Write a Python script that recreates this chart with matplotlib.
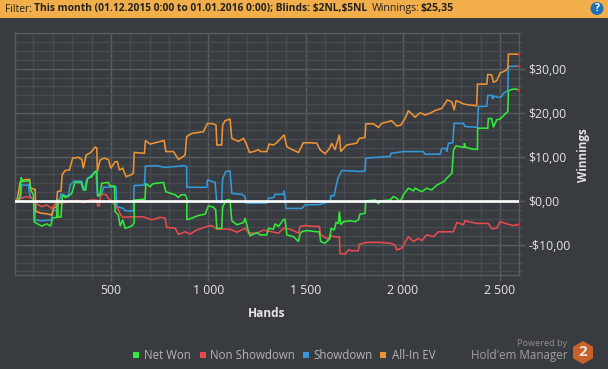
import matplotlib
matplotlib.use("Agg")
import matplotlib.pyplot as plt
from matplotlib.patches import Rectangle, RegularPolygon, Circle
from matplotlib.ticker import MultipleLocator, FuncFormatter

plt.rcParams['font.family'] = ['Open Sans', 'DejaVu Sans']

orange_h = [9,19,33,53,81,87,110,113,144,170,195,204,218,225,243,249,264,286,303,332,350,358,372,396,418,427,430,444,464,487,499,521,533,543,560,578,602,615,619,672,677,701,736,773,782,821,847,881,889,915,975,996,1026,1040,1044,1069,1074,1086,1112,1121,1155,1181,1194,1212,1232,1258,1270,1301,1313,1335,1352,1369,1390,1404,1429,1464,1489,1524,1558,1575,1601,1623,1635,1652,1661,1674,1681,1712,1763,1777,1806,1810,1849,1875,1892,1943,1969,1990,2012,2029,2063,2089,2115,2140,2166,2200,2229,2252,2264,2274,2312,2337,2380,2384,2432,2437,2457,2466,2483,2500,2530,2540,2543,2569,2595]
orange_v = [0,.6,4.4,4.8,4.9,2.9,2.6,-2.4,-2.8,-2.9,-3.2,-1.7,-1.3,2.1,2.3,5.9,6.9,7.0,9.7,9.9,9.4,7.4,10.4,11.0,12.2,12,6.7,9.3,9.7,9.4,7.4,8.9,8.9,7.0,7.4,5.5,5.9,6.3,11,10.8,13.7,12.9,13.3,13.7,11.2,11.2,9.4,10.4,14.6,15.3,15.7,17.6,17.5,17.2,12.7,12.7,17.2,18.2,18.6,14.2,13.5,14.2,13.1,11,11.2,11.6,11.2,11.2,12.9,12.7,13.2,14,15,12.3,11.7,11,13.2,13.2,13.1,11.6,10.7,11.9,13.1,11.6,13.1,15,11.2,12.7,13.1,14.2,14.4,17.5,17.5,16.7,17.6,18.2,17,17.2,18.7,20.5,19,20,19.5,19.9,20.5,21,22.9,22.5,20.6,22.8,22,21.8,21.6,26.5,26.5,28.7,28.6,26.9,27.3,29,29.6,30.1,33.3,33.3,33.3]

blue_h = [9,36,41,75,84,106,110,144,195,200,221,243,281,290,310,350,362,375,410,423,430,452,461,526,530,564,573,615,619,672,677,736,778,877,889,890,992,996,1035,1044,1069,1074,1091,1112,1121,1172,1189,1194,1301,1309,1338,1343,1386,1390,1400,1481,1498,1575,1601,1626,1631,1647,1655,1666,1686,1781,1806,1810,1866,1935,1940,2003,2106,2115,2192,2200,2223,2226,2235,2257,2264,2312,2320,2384,2389,2432,2437,2457,2463,2466,2492,2509,2517,2535,2540,2543,2595]
blue_v = [0,.6,3.6,3.6,1,.2,-4.3,-4.5,-4.3,-2.4,-2,1.6,1,3.6,4.5,4.5,2.3,4.8,6.3,6.7,1.4,1.4,3.1,3.2,-1.3,-1.7,-2.2,-2.3,3.5,3.6,7.9,8,7.6,8,7.8,3.1,3.1,4.8,4.2,-.2,-.4,5.1,6.7,6.8,1.7,1.5,1,-.5,-.5,.6,.8,1.5,1.5,2.3,-1.7,-1.7,-.9,-.8,-.4,-.2,1.2,1.2,2.9,5.1,6.9,6.7,6.8,9.7,9.9,10.1,10.8,11.2,11.2,10.6,10.6,11.9,11.9,11.2,13.1,13.2,17.6,17.6,16.9,16.7,21.4,21.5,23.9,24,23.1,23.8,23.5,23.7,24.4,24.8,25.2,30.5,30.6]

red_h = [9,36,67,101,118,144,170,195,212,247,272,324,358,392,427,432,440,447,475,487,512,538,550,560,615,667,710,753,778,787,830,847,881,907,941,992,1018,1044,1112,1147,1190,1207,1250,1284,1327,1361,1387,1421,1464,1472,1498,1523,1558,1571,1578,1618,1626,1643,1674,1678,1703,1720,1738,1772,1777,1815,1883,1935,1960,1969,1995,2029,2055,2080,2098,2123,2158,2183,2226,2260,2278,2312,2320,2380,2440,2458,2483,2500,2535,2569,2595]
red_v = [0,.6,1,.5,-.7,-1.3,-.9,-1.7,-.7,-.5,-.2,.1,-.4,.2,.2,-1.1,-1.1,1.6,1.4,.6,-.5,-2,-3.2,-3.7,-3.6,-3.6,-4.3,-3.7,-3.9,-6,-6.2,-7.6,-7,-7.5,-6.6,-5.8,-5.6,-6.4,-6.4,-7.1,-6.2,-7.3,-7.3,-6.6,-7,-7.3,-6.2,-6.4,-7.3,-5.8,-5.6,-5.7,-5.8,-5.8,-7.7,-8.7,-7.7,-8.1,-8.2,-11.9,-12.1,-11.1,-11.3,-11.3,-9.8,-9.4,-9.4,-9.6,-10,-11.1,-10.7,-8.1,-9.2,-8.5,-9,-7.7,-8.1,-7,-7,-7,-4.9,-5.4,-4.5,-5.1,-5.1,-6.3,-6.2,-4.7,-5.2,-5.6,-5.3]

green_h = [9,24,33,38,46,81,87,101,105,118,144,170,190,199,221,225,228,243,250,264,281,298,315,346,358,370,379,401,418,427,432,444,452,487,495,518,521,538,547,560,573,607,619,619,675,679,701,715,770,782,830,847,861,881,890,890,915,949,984,1001,1026,1038,1044,1069,1074,1095,1112,1121,1147,1181,1190,1202,1215,1250,1267,1301,1310,1335,1344,1361,1387,1395,1404,1438,1464,1472,1480,1506,1558,1571,1578,1600,1626,1631,1648,1657,1669,1674,1681,1695,1729,1755,1772,1780,1806,1810,1858,1875,1883,1935,1952,1969,1986,2003,2029,2055,2063,2098,2123,2149,2175,2212,2225,2253,2261,2274,2303,2315,2317,2322,2355,2384,2385,2406,2437,2440,2457,2466,2483,2500,2517,2540,2543,2560,2581,2595]
green_v = [0,.2,1.4,5.4,4.4,4.6,2.5,1.4,-4.7,-5.1,-5.7,-5.2,-5.7,-3.9,-3.7,.4,-3.7,-3.6,1.4,.8,1.1,1.7,4.2,4.2,2.5,2.5,5.1,5.5,6.7,6.7,1,1.4,4,4.2,3.4,3.4,-2.4,-3.2,-5.7,-4.3,-6.2,-5.7,-5,.2,.4,4,3.2,3.9,4.2,2.1,1.4,.8,1.4,1.4,.6,-4.3,-3.9,-3.3,-3,-1.1,-1.4,-2,-6.2,-6.2,-1.3,.2,.2,-4.5,-5.4,-4.9,-3.9,-6.2,-7.9,-7.2,-7.7,-7.7,-6.2,-6.4,-5.2,-5.8,-4.2,-4.2,-7.7,-8.1,-9.2,-7.4,-7,-6.7,-7,-7,-9.2,-9.6,-8.5,-6.2,-6.6,-4.9,-5.1,-2.4,-5.4,-4.7,-4.5,-4.7,-4.3,-3,-2.8,0,.2,-.7,0,.2,1,.6,-.2,1.4,2.9,2.3,2.9,2.1,2.9,2.5,3.6,4.4,5.1,6.3,11.6,12.5,12.2,12.2,13.1,12.2,11.8,11.7,16.5,16.5,16.5,18.7,18.7,16.7,18.4,18.6,19.3,20.3,25,25.3,25.4,25.2]

legend_names = ["Net Won", "Non Showdown", "Showdown", "All-In EV"]
y_ticks = [-10, 0, 10, 20, 30]
x_ticks = [500, 1000, 1500, 2000, 2500]

BG = "#383C40"
MAJOR = "#585C5F"
MINOR = "#474A4E"
TXT = "#E4E4E4"
C_G, C_R, C_B, C_O = "#33E83A", "#E84A4F", "#3498DB", "#EE9333"

W, H = 608, 369
fig = plt.figure(figsize=(W/100, H/100), dpi=100, facecolor=BG)

ax = fig.add_axes([15.3/W, 1-275/H, (518.7-15.3)/W, (275-33)/H], facecolor=BG)
ax.set_xlim(8, 2596)
ax.set_ylim(-16.8, 38.1)
ax.xaxis.set_major_locator(MultipleLocator(500))
ax.xaxis.set_minor_locator(MultipleLocator(100))
ax.yaxis.set_major_locator(MultipleLocator(10))
ax.yaxis.set_minor_locator(MultipleLocator(2))
ax.grid(which='major', color=MAJOR, lw=1.0, zorder=0)
ax.grid(which='minor', color=MINOR, lw=1.0, zorder=0)
ax.set_axisbelow(True)
for s in ['top', 'bottom', 'left', 'right']:
    ax.spines[s].set_color(MAJOR)
    ax.spines[s].set_linewidth(1.0)
ax.yaxis.tick_right()
ax.yaxis.set_major_formatter(FuncFormatter(lambda v, p: r"\$0,00" if v == 0 else (rf"-\${abs(v):.0f},00" if v < 0 else rf"\${v:.0f},00")))
ax.xaxis.set_major_formatter(FuncFormatter(lambda v, p: f"{v:,.0f}".replace(",", " ")))
ax.set_xticks(x_ticks)
ax.set_yticks(y_ticks)
ax.tick_params(which='major', length=4, width=1, color=MAJOR, labelcolor=TXT, labelsize=8.8)
ax.tick_params(axis='y', which='major', pad=3)
ax.tick_params(axis='x', which='major', pad=2.5)
ax.tick_params(which='minor', length=3, width=1, color=MINOR)

for hx, vy, col in [(blue_h, blue_v, C_B), (orange_h, orange_v, C_O), (red_h, red_v, C_R), (green_h, green_v, C_G)]:
    ax.plot(hx, vy, color=col, lw=1.15, solid_joinstyle='miter', zorder=3)
    ax.plot(hx[-1], vy[-1], marker='s', ms=1.2, color='#FF2020', zorder=4)
ax.axhline(0, color='white', lw=1.9, zorder=5)

ov = fig.add_axes([0, 0, 1, 1], facecolor='none')
ov.set_xlim(0, W)
ov.set_ylim(H, 0)
ov.axis('off')
ov.add_patch(Rectangle((0, 0), W, 17.5, color="#F2AE4B", lw=0))
dark = "#222222"
ov.text(5, 9, "Filter:", fontsize=7.4, color=dark, va='center')
ov.text(33.5, 9, r"This month (01.12.2015 0:00 to 01.01.2016 0:00); Blinds: \$2NL,\$5NL", fontsize=7.38, fontweight='bold', color=dark, va='center')
ov.text(372, 9, "Winnings:", fontsize=7.6, color=dark, va='center')
ov.text(421, 9, r"\$25,35", fontsize=7.6, fontweight='bold', color=dark, va='center')
ov.add_patch(Circle((597, 8.5), 6.5, color="#1F6FB5", lw=0))
ov.text(597, 8.5, "?", fontsize=7.5, fontweight='bold', color='white', ha='center', va='center')

ov.text(267, 313.5, "Hands", fontsize=8.6, fontweight='bold', color=TXT, ha='center', va='center')
ov.text(583, 155, "Winnings", fontsize=8.4, fontweight='bold', color=TXT, rotation=90, ha='center', va='center')

for sx, tx, col, name in zip([132.5, 199.5, 303, 380], [144, 210.5, 313.5, 391.5], [C_G, C_R, C_B, C_O], legend_names):
    ov.add_patch(Rectangle((sx, 352), 6, 6, color=col, lw=0))
    ov.text(tx, 355.5, name, fontsize=8.3, color="#B5B5B5", va='center')

ov.text(567.5, 343.5, "Powered by", fontsize=6.6, color="#8E8E8E", ha='right', va='center')
ov.text(567.5, 356, "Hold'em Manager", fontsize=8.4, color="#A0A0A0", ha='right', va='center')
ov.add_patch(RegularPolygon((583, 352.5), 6, radius=11.5, color="#C8622A", lw=0))
ov.text(583, 352.5, "2", fontsize=11, fontweight='bold', color="#EFE6DC", ha='center', va='center')

fig.savefig("out.png", dpi=100, facecolor=BG)
